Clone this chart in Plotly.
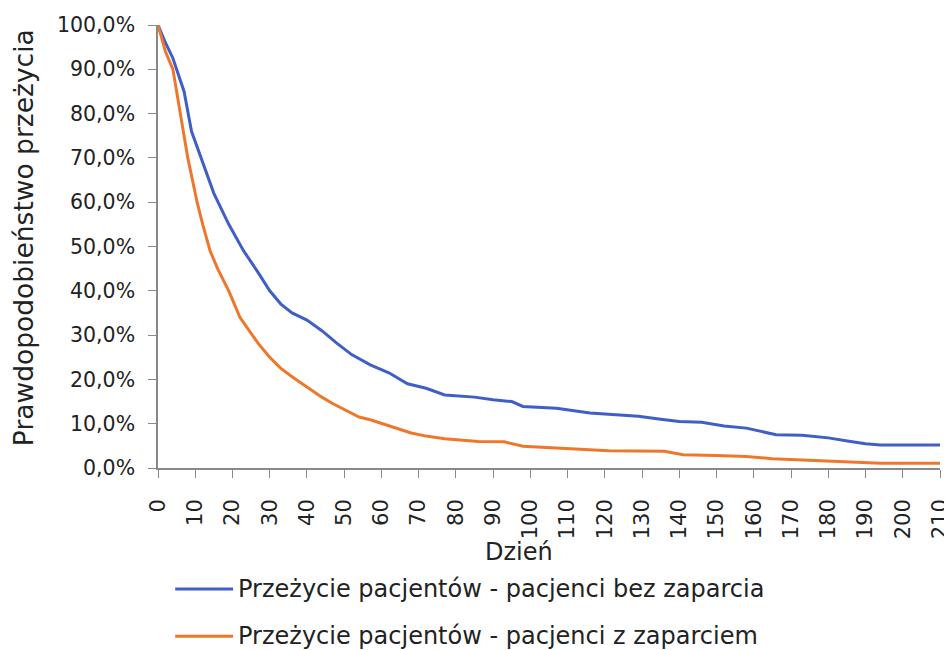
import plotly.graph_objects as go

# Survival curves (day, probability in %)
days_bez = [0, 2, 4, 7, 9, 12, 15, 19, 23, 27, 30, 33, 36, 40, 44, 48, 52, 57, 62, 67,
            72, 77, 85, 90, 95, 98, 107, 116, 122, 129, 135, 140, 146, 152, 158, 163,
            166, 173, 180, 186, 190, 194, 200, 210]
surv_bez = [100, 96, 92.5, 85, 76, 69, 62, 55, 49, 44, 40, 37, 35, 33.4, 31, 28.2, 25.6,
            23.3, 21.5, 19, 18, 16.5, 16, 15.4, 15, 13.9, 13.5, 12.4, 12, 11.7, 11, 10.5,
            10.3, 9.5, 9, 8, 7.5, 7.4, 6.8, 6, 5.5, 5.2, 5.2, 5.2]

days_z = [0, 2, 4, 6, 8, 9.5, 10.5, 12, 14, 16, 19, 22, 24, 27, 30, 33, 36, 40, 44, 47,
          50, 54, 57, 62, 68, 72, 77, 86, 93, 98, 110, 121, 136, 141, 150, 158, 165,
          175, 183, 194, 210]
surv_z = [100, 94, 90, 80, 70, 64, 60, 55, 49, 45, 40, 34, 31.5, 28, 25, 22.5, 20.6,
          18.3, 16, 14.5, 13.2, 11.5, 10.9, 9.5, 7.9, 7.2, 6.6, 6, 5.9, 4.9, 4.4, 3.9,
          3.8, 3.0, 2.8, 2.6, 2.1, 1.8, 1.5, 1.1, 1.1]

name_bez = "Przeżycie pacjentów - pacjenci bez zaparcia"
name_z = "Przeżycie pacjentów - pacjenci z zaparciem"
x_title = "Dzień"
y_title = "Prawdopodobieństwo przeżycia"

x_ticks = list(range(0, 211, 10))
y_ticks = [i / 10 for i in range(0, 11)]

FONT = "DejaVu Sans"
TXT = "#222"
BLUE = "#3f5fc6"
ORANGE = "#ee772c"

fig = go.Figure()
fig.add_trace(go.Scatter(x=days_bez, y=[v / 100 for v in surv_bez], mode="lines",
                         name=name_bez, showlegend=False,
                         line=dict(color=BLUE, width=3)))
fig.add_trace(go.Scatter(x=days_z, y=[v / 100 for v in surv_z], mode="lines",
                         name=name_z, showlegend=False,
                         line=dict(color=ORANGE, width=3)))

# manual legend below the plot (paper coordinates)
legend_items = [(name_bez, BLUE, -0.273), (name_z, ORANGE, -0.380)]
shapes = []
annotations = []
for label, color, yy in legend_items:
    shapes.append(dict(type="line", xref="paper", yref="paper",
                       x0=0.022, x1=0.096, y0=yy, y1=yy,
                       line=dict(color=color, width=3)))
    annotations.append(dict(text=label, xref="paper", yref="paper", x=0.1, y=yy,
                            xanchor="left", yanchor="middle", showarrow=False,
                            font=dict(family=FONT, size=24, color=TXT)))

annotations += [
    dict(text=x_title, xref="paper", yref="paper", x=0.462, y=-0.19,
         showarrow=False, xanchor="center", yanchor="middle",
         font=dict(family=FONT, size=24, color=TXT)),
    dict(text=y_title, xref="paper", yref="paper", x=-0.172, y=0.52,
         textangle=-90, showarrow=False, xanchor="center", yanchor="middle",
         font=dict(family=FONT, size=26.5, color=TXT)),
]

fig.update_layout(
    width=944, height=642,
    margin=dict(l=150, r=12, t=17, b=182),
    paper_bgcolor="white", plot_bgcolor="white",
    separators=", ",
    font=dict(family=FONT, size=21, color=TXT),
    showlegend=False,
    xaxis=dict(range=[0, 210], tickvals=x_ticks, ticktext=[str(t) for t in x_ticks],
               tickangle=-90, showgrid=False, zeroline=False, automargin=False,
               showline=True, linecolor="#888", linewidth=1.5,
               ticks="outside", ticklen=8, tickcolor="#888", ticklabelstandoff=13,
               tickfont=dict(family=FONT, size=21, color=TXT)),
    yaxis=dict(range=[0, 1], tickvals=y_ticks, tickformat=".1%", automargin=False,
               showgrid=False, zeroline=False,
               showline=True, linecolor="#888", linewidth=1.5,
               ticks="outside", ticklen=8, tickcolor="#888", ticklabelstandoff=9,
               tickfont=dict(family=FONT, size=20.5, color=TXT)),
    shapes=shapes,
    annotations=annotations,
)

fig.write_html("out.html")
